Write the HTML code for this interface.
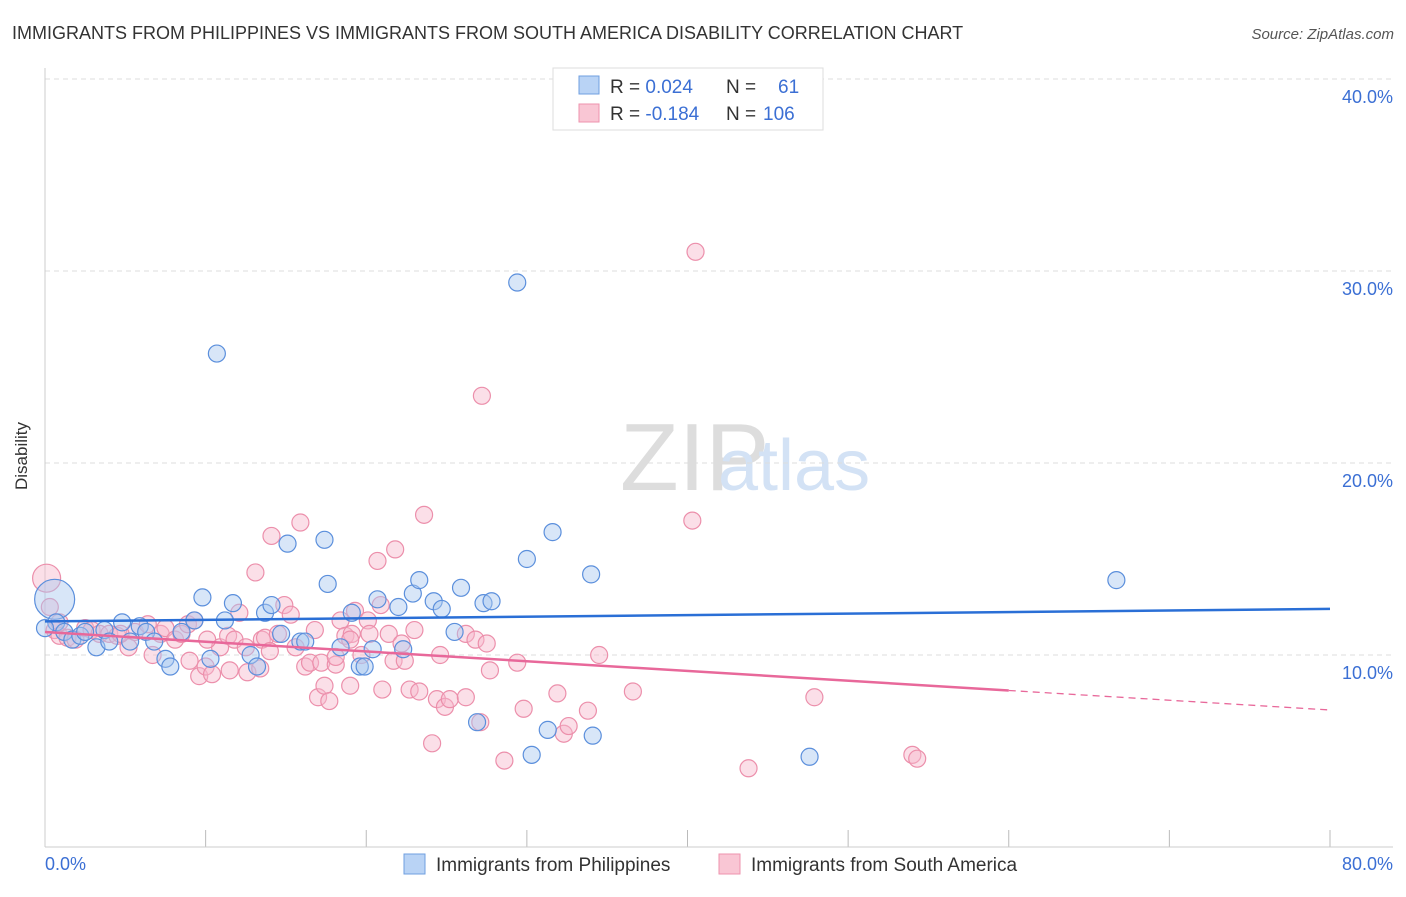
<!DOCTYPE html>
<html><head><meta charset="utf-8"><style>
body{margin:0;background:#fff;font-family:"Liberation Sans",sans-serif;}
svg text{font-family:"Liberation Sans",sans-serif;}
</style></head><body>
<svg width="1406" height="892" xmlns="http://www.w3.org/2000/svg">
<text x="12" y="39" font-size="18" fill="#333">IMMIGRANTS FROM PHILIPPINES VS IMMIGRANTS FROM SOUTH AMERICA DISABILITY CORRELATION CHART</text>
<text x="1394" y="39" font-size="15" fill="#555" font-style="italic" text-anchor="end">Source: ZipAtlas.com</text>
<text x="620" y="490" font-size="96" fill="#ddd" font-family="Liberation Serif">ZIP</text>
<text x="718" y="490" font-size="72" fill="#d3e2f5">atlas</text>
<g id="grid"></g>
<line x1="45" y1="68" x2="45" y2="847" stroke="#ccc"/>
<line x1="45" y1="847" x2="1393" y2="847" stroke="#ccc"/>
<text x="27" y="456" font-size="17" fill="#333" transform="rotate(-90 27 456)" text-anchor="middle">Disability</text>
<text x="45" y="870" font-size="18" fill="#3b6fd4">0.0%</text>
<text x="1393" y="870" font-size="18" fill="#3b6fd4" text-anchor="end">80.0%</text>
<g id="pts"></g>
<g id="lines"></g>
<g>
<rect x="553" y="68" width="270" height="62" fill="#fff" stroke="#ddd"/>
<rect x="579" y="76" width="20" height="18" fill="#b9d3f5" stroke="#6f9fe0"/>
<rect x="579" y="104" width="20" height="18" fill="#f9c6d4" stroke="#ee93ae"/>
<text x="610" y="93" font-size="19" fill="#333">R = <tspan fill="#3b6fd4"> 0.024</tspan><tspan x="726">N = </tspan><tspan x="778" fill="#3b6fd4">61</tspan></text>
<text x="610" y="120" font-size="19" fill="#333">R = <tspan fill="#3b6fd4">-0.184</tspan><tspan x="726">N = </tspan><tspan x="763" fill="#3b6fd4">106</tspan></text>
</g>
<g>
<rect x="404" y="854" width="21" height="20" fill="#b9d3f5" stroke="#6f9fe0"/>
<text x="436" y="871" font-size="19" fill="#333">Immigrants from Philippines</text></g>
<g>
<rect x="719" y="854" width="21" height="20" fill="#f9c6d4" stroke="#ee93ae"/>
<text x="751" y="871" font-size="19" fill="#333">Immigrants from South America</text></g>
</svg>
<script>
const yTicks=[10,20,30,40];
const xTicks=[0,10,20,30,40,50,60,70,80];
const blueX=[0.6,0.7,1.2,1.7,2.2,3.2,3.7,4.8,5.3,5.9,6.3,6.8,7.5,7.8,8.5,9.3,9.8,10.3,10.7,11.2,11.7,12.8,13.2,13.7,14.1,14.7,15.1,15.9,16.2,17.4,17.6,18.4,19.1,19.6,19.9,20.4,20.7,22,22.3,22.9,23.3,24.2,24.7,25.5,25.9,27.3,27.8,26.9,29.4,30,30.3,31.3,31.6,34,34.1,47.6,66.7,0,2.5,4];
const blueY=[12.9,11.7,11.2,10.8,11,10.4,11.3,11.7,10.7,11.5,11.2,10.7,9.8,9.4,11.2,11.8,13,9.8,25.7,11.8,12.7,10,9.4,12.2,12.6,11.1,15.8,10.7,10.7,16,13.7,10.4,12.2,9.4,9.4,10.3,12.9,12.5,10.3,13.2,13.9,12.8,12.4,11.2,13.5,12.7,12.8,6.5,29.4,15,4.8,6.1,16.4,14.2,5.8,4.7,13.9,11.4,11.2,10.7];
const pinkX=[0.1,0.3,0.6,0.9,1.4,1.9,2.5,2.9,3.4,4,4.5,5.2,5.6,6.4,6.7,7.2,7.5,8.1,8.5,8.9,9.3,9.0,9.6,10,10.4,10.9,11.4,11.8,12.1,12.5,12.6,13.1,13.5,13.7,14.1,14.5,14.9,15.3,15.6,15.9,16.2,16.5,17,17.2,17.4,17.7,18.1,18.4,18.7,19,19.1,19.3,19.7,20.1,20.7,20.9,21,21.4,21.7,21.8,22.2,22.4,22.7,23,23.3,23.6,24.1,24.4,24.6,24.9,25.2,26.2,26.2,26.8,27.1,27.2,27.5,27.7,29.4,29.8,31.9,32.3,32.6,33.8,34.5,36.6,40.3,40.5,43.8,47.9,54,54.3,28.6,0.9,4.7,10.1,11.5,14,16.8,19,20.2,13.4,18.1];
const pinkY=[14,12.5,11.3,11,10.9,10.8,11.4,11.3,11.1,11.1,11,10.4,11.2,11.6,10,11.1,11.4,10.8,11.1,11.6,11.8,9.7,8.9,9.4,9,10.4,11,10.8,12.2,10.4,9.1,14.3,10.8,10.9,16.2,11.1,12.6,12.1,10.4,16.9,9.4,9.6,7.8,9.6,8.4,7.6,9.5,11.8,11,8.4,11.1,12.3,10.0,11.8,14.9,12.6,8.2,11.1,9.7,15.5,10.6,9.7,8.2,11.3,8.1,17.3,5.4,7.7,10.0,7.3,7.7,11.1,7.8,10.8,6.5,23.5,10.6,9.2,9.6,7.2,8,5.9,6.3,7.1,10,8.1,17,31,4.1,7.8,4.8,4.6,4.5,11.7,11.1,10.8,9.2,10.2,11.3,10.8,11.1,9.3,9.9];
const X=v=>45+v*16.0625, Y=v=>847-v*19.2;
const ns="http://www.w3.org/2000/svg";
const g=document.getElementById('grid');
yTicks.forEach(t=>{
 const l=document.createElementNS(ns,'line');
 l.setAttribute('x1',45);l.setAttribute('x2',1393);l.setAttribute('y1',Y(t));l.setAttribute('y2',Y(t));
 l.setAttribute('stroke','#ddd');l.setAttribute('stroke-dasharray','5,4');
 
 
 g.appendChild(l);
 const tx=document.createElementNS(ns,'text');
 tx.setAttribute('x',1393);tx.setAttribute('y',Y(t)+24);tx.setAttribute('text-anchor','end');
 tx.setAttribute('font-size','18');tx.setAttribute('fill','#3b6fd4');tx.textContent=t.toFixed(1)+'%';
 
 
 g.appendChild(tx);
});
xTicks.forEach(t=>{
 const l=document.createElementNS(ns,'line');
 l.setAttribute('x1',X(t));l.setAttribute('x2',X(t));l.setAttribute('y1',830);l.setAttribute('y2',847);
 l.setAttribute('stroke','#bbb');
 
 
 g.appendChild(l);
});
const p=document.getElementById('pts');
function dot(x,y,r,fill,stroke,name){
 const c=document.createElementNS(ns,'circle');
 c.setAttribute('cx',X(x));c.setAttribute('cy',Y(y));c.setAttribute('r',r);
 c.setAttribute('fill',fill);c.setAttribute('fill-opacity','0.45');c.setAttribute('stroke',stroke);c.setAttribute('stroke-width','1.2');
 
 
 p.appendChild(c);
}
pinkX.forEach((x,i)=>dot(x,pinkY[i],i==0?14:8.5,'#f7b8cb','#ec8fab','point-south-america'));
blueX.forEach((x,i)=>dot(x,blueY[i],i==0?20:8.5,'#a9c8f0','#5b8fdc','point-philippines'));
const L=document.getElementById('lines');
function line(x1,y1,x2,y2,col,dash,name){
 const l=document.createElementNS(ns,'line');
 l.setAttribute('x1',X(x1));l.setAttribute('y1',Y(y1));l.setAttribute('x2',X(x2));l.setAttribute('y2',Y(y2));
 l.setAttribute('stroke',col);l.setAttribute('stroke-width',dash?1.3:2.5);
 if(dash)l.setAttribute('stroke-dasharray','7,5');
 
 
 L.appendChild(l);
}
const pk=x=>11.2-x*0.0508;
line(0,11.75,80,12.4,'#2a6fd6',false,'trend-philippines');
line(0,pk(0),60,pk(60),'#e8689a',false,'trend-south-america');
line(60,pk(60),80,pk(80),'#e8689a',true,'trend-south-america-extrapolated');
</script>
</body></html>
